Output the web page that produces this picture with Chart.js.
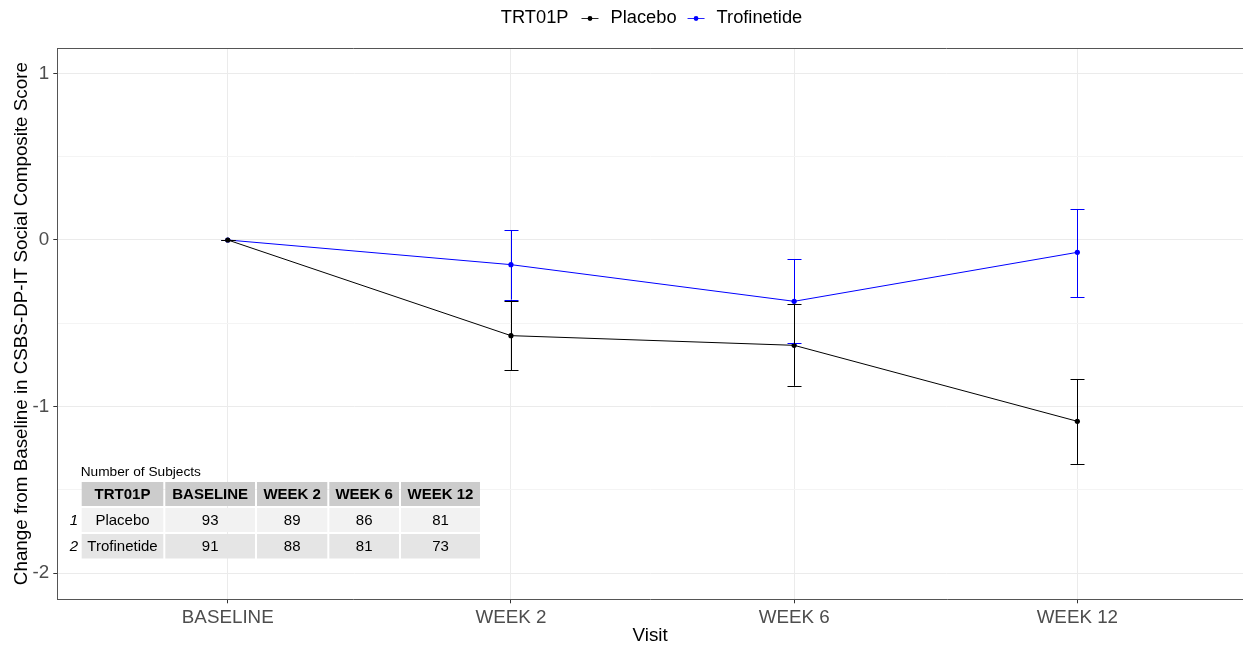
<!DOCTYPE html>
<html>
<head>
<meta charset="utf-8">
<script src="https://cdn.jsdelivr.net/npm/chart.js@4"></script>
<style>
  html, body { margin: 0; padding: 0; background: #ffffff; overflow: hidden; }
  #wrap { position: relative; width: 1243px; height: 647px; }
</style>
</head>
<body>
<div id="wrap"><canvas id="c" width="1243" height="647"></canvas></div>
<script>
// Visits on the x axis
const visits = ['BASELINE', 'WEEK 2', 'WEEK 6', 'WEEK 12'];

// Mean change from baseline with lower / upper error limits
const placeboMean  = [0, -0.574, -0.632, -1.088];
const placeboLower = [0, -0.782, -0.875, -1.344];
const placeboUpper = [0, -0.364, -0.386, -0.834];

const trofMean  = [0, -0.148, -0.368, -0.074];
const trofLower = [0, -0.358, -0.620, -0.342];
const trofUpper = [0,  0.060, -0.116,  0.184];

// Y axis ticks (integers labelled, halves as minor grid lines)
const yTicks = [1, 0.5, 0, -0.5, -1, -1.5, -2];

// Number of subjects table
const tableHeader = ['TRT01P', 'BASELINE', 'WEEK 2', 'WEEK 6', 'WEEK 12'];
const placeboN = [93, 89, 86, 81];
const trofN    = [91, 88, 81, 73];

const FONT = "'Liberation Sans', Arial, sans-serif";
const AXIS_SIZE = 18.8;

const seriesInfo = [
  { label: 'Placebo', color: '#000000', mean: placeboMean, lo: placeboLower, hi: placeboUpper, n: placeboN },
  { label: 'Trofinetide', color: '#0000FF', mean: trofMean, lo: trofLower, hi: trofUpper, n: trofN }
];

const datasets = seriesInfo.map(s => ({
  label: s.label,
  data: s.mean.map((v, i) => ({ x: i, y: v })),
  borderColor: s.color,
  backgroundColor: s.color,
  borderWidth: 1,
  pointRadius: 2.6,
  pointBorderWidth: 0,
  pointHoverRadius: 2.6,
  tension: 0,
  lo: s.lo,
  hi: s.hi
}));

// Vertical error bars with caps (placebo bars end up on top)
const errorBars = {
  id: 'errorBars',
  afterDatasetsDraw(chart) {
    const ctx = chart.ctx;
    const xs = chart.scales.x, ys = chart.scales.y;
    const capHalf = 7;
    ctx.save();
    chart.data.datasets.slice().reverse().forEach(ds => {
      ctx.strokeStyle = ds.borderColor;
      ctx.lineWidth = 1;
      ds.data.forEach((p, i) => {
        const x = Math.round(xs.getPixelForValue(p.x)) + 0.5;
        const yl = ys.getPixelForValue(ds.lo[i]);
        const yh = ys.getPixelForValue(ds.hi[i]);
        ctx.beginPath();
        ctx.moveTo(x, yl); ctx.lineTo(x, yh);
        ctx.moveTo(x - capHalf, Math.round(yl) + 0.5); ctx.lineTo(x + capHalf, Math.round(yl) + 0.5);
        ctx.moveTo(x - capHalf, Math.round(yh) + 0.5); ctx.lineTo(x + capHalf, Math.round(yh) + 0.5);
        ctx.stroke();
      });
    });
    ctx.restore();
  }
};

// Top edge of the panel border
const panelTop = {
  id: 'panelTop',
  afterDraw(chart) {
    const ctx = chart.ctx, a = chart.chartArea;
    ctx.save();
    ctx.strokeStyle = '#555555';
    ctx.lineWidth = 1;
    ctx.beginPath();
    ctx.moveTo(a.left, Math.round(a.top) + 0.5);
    ctx.lineTo(a.right, Math.round(a.top) + 0.5);
    ctx.stroke();
    ctx.restore();
  }
};

// Legend line: title, then key (line + dot) and label for each treatment
const topLegend = {
  id: 'topLegend',
  afterDraw(chart) {
    const ctx = chart.ctx;
    ctx.save();
    ctx.font = '18.3px ' + FONT;
    ctx.textBaseline = 'middle';
    ctx.fillStyle = '#000000';
    const title = 'TRT01P';
    const keyW = 17, gapTitle = 13, gapKey = 12, gapItem = 11;
    let total = ctx.measureText(title).width;
    chart.data.datasets.forEach((ds, k) => {
      total += (k > 0 ? gapItem : gapTitle) + keyW + gapKey + ctx.measureText(ds.label).width;
    });
    const cx = 651.5, y = 18;
    let x = cx - total / 2;
    ctx.textAlign = 'left';
    ctx.fillText(title, x, y);
    x += ctx.measureText(title).width;
    chart.data.datasets.forEach((ds, k) => {
      x += (k > 0 ? gapItem : gapTitle);
      ctx.strokeStyle = ds.borderColor;
      ctx.globalAlpha = 0.85;
      ctx.lineWidth = 1;
      ctx.beginPath();
      ctx.moveTo(x, y + 0.5); ctx.lineTo(x + keyW, y + 0.5);
      ctx.stroke();
      ctx.globalAlpha = 1;
      ctx.fillStyle = ds.borderColor;
      ctx.beginPath();
      ctx.arc(x + keyW / 2, y + 0.5, 2.4, 0, Math.PI * 2);
      ctx.fill();
      x += keyW + gapKey;
      ctx.fillStyle = '#000000';
      ctx.fillText(ds.label, x, y);
      x += ctx.measureText(ds.label).width;
    });
    ctx.restore();
  }
};

// Subject count table in the lower left of the panel
const subjectTable = {
  id: 'subjectTable',
  afterDraw(chart) {
    const ctx = chart.ctx;
    ctx.save();
    const colEdges = [80.7, 164.3, 256, 328.3, 400, 481];
    const rowEdges = [481, 507, 533, 559.5];
    const fills = ['#CCCCCC', '#F2F2F2', '#E5E5E5'];
    // cell backgrounds
    for (let r = 0; r < 3; r++) {
      ctx.fillStyle = fills[r];
      for (let c = 0; c < 5; c++) {
        ctx.fillRect(colEdges[c] + 1, rowEdges[r] + 1, colEdges[c + 1] - colEdges[c] - 2, rowEdges[r + 1] - rowEdges[r] - 2);
      }
    }
    ctx.fillStyle = '#000000';
    ctx.textAlign = 'left';
    ctx.textBaseline = 'alphabetic';
    ctx.font = '13.7px ' + FONT;
    ctx.fillText('Number of Subjects', 80.7, 476);
    ctx.textAlign = 'center';
    ctx.textBaseline = 'middle';
    ctx.font = 'bold 15px ' + FONT;
    tableHeader.forEach((h, c) => {
      ctx.fillText(h, (colEdges[c] + colEdges[c + 1]) / 2, (rowEdges[0] + rowEdges[1]) / 2 + 1);
    });
    seriesInfo.forEach((s, r) => {
      const cy = (rowEdges[r + 1] + rowEdges[r + 2]) / 2 + 1;
      ctx.font = 'italic 15px ' + FONT;
      ctx.fillText(String(r + 1), 74, cy);
      ctx.font = '15px ' + FONT;
      ctx.fillText(s.label, (colEdges[0] + colEdges[1]) / 2, cy);
      s.n.forEach((v, c) => {
        ctx.fillText(String(v), (colEdges[c + 1] + colEdges[c + 2]) / 2, cy);
      });
    });
    ctx.restore();
  }
};

new Chart(document.getElementById('c'), {
  type: 'line',
  data: { datasets },
  plugins: [errorBars, panelTop, topLegend, subjectTable],
  options: {
    responsive: false,
    animation: false,
    events: [],
    layout: { autoPadding: false, padding: { top: 48, left: 0, right: 0, bottom: 0 } },
    plugins: { legend: { display: false }, tooltip: { enabled: false } },
    scales: {
      x: {
        type: 'linear',
        min: -0.602,
        max: 3.585,
        afterBuildTicks(scale) { scale.ticks = visits.map((v, i) => ({ value: i })); },
        afterFit(scale) { scale.height = 47.7; },
        ticks: {
          callback: (v) => visits[v],
          color: '#4D4D4D',
          font: { family: FONT, size: AXIS_SIZE },
          padding: 3,
          maxRotation: 0,
          autoSkip: false
        },
        grid: { color: '#EBEBEB', lineWidth: 1, tickLength: 4, tickColor: '#333333' },
        border: { display: true, color: '#555555', width: 1 },
        title: {
          display: true,
          text: 'Visit',
          color: '#000000',
          font: { family: FONT, size: AXIS_SIZE },
          padding: { top: 0, bottom: 0 }
        }
      },
      y: {
        type: 'linear',
        min: -2.156,
        max: 1.152,
        afterBuildTicks(scale) { scale.ticks = yTicks.map(v => ({ value: v })); },
        afterFit(scale) { scale.width = 57.3; },
        ticks: {
          callback: (v) => Number.isInteger(v) ? String(v) : '',
          color: '#4D4D4D',
          font: { family: FONT, size: AXIS_SIZE },
          padding: 4
        },
        grid: {
          color: (ctx) => (ctx.tick && Number.isInteger(ctx.tick.value)) ? '#EBEBEB' : '#F4F4F4',
          lineWidth: 1,
          tickLength: 4,
          tickColor: (ctx) => (ctx.tick && Number.isInteger(ctx.tick.value)) ? '#333333' : 'rgba(0,0,0,0)'
        },
        border: { display: true, color: '#555555', width: 1 },
        title: {
          display: true,
          text: 'Change from Baseline in CSBS-DP-IT Social Composite Score',
          color: '#000000',
          font: { family: FONT, size: AXIS_SIZE },
          padding: { top: 10.5, bottom: 0 }
        }
      }
    }
  }
});
</script>
</body>
</html>
